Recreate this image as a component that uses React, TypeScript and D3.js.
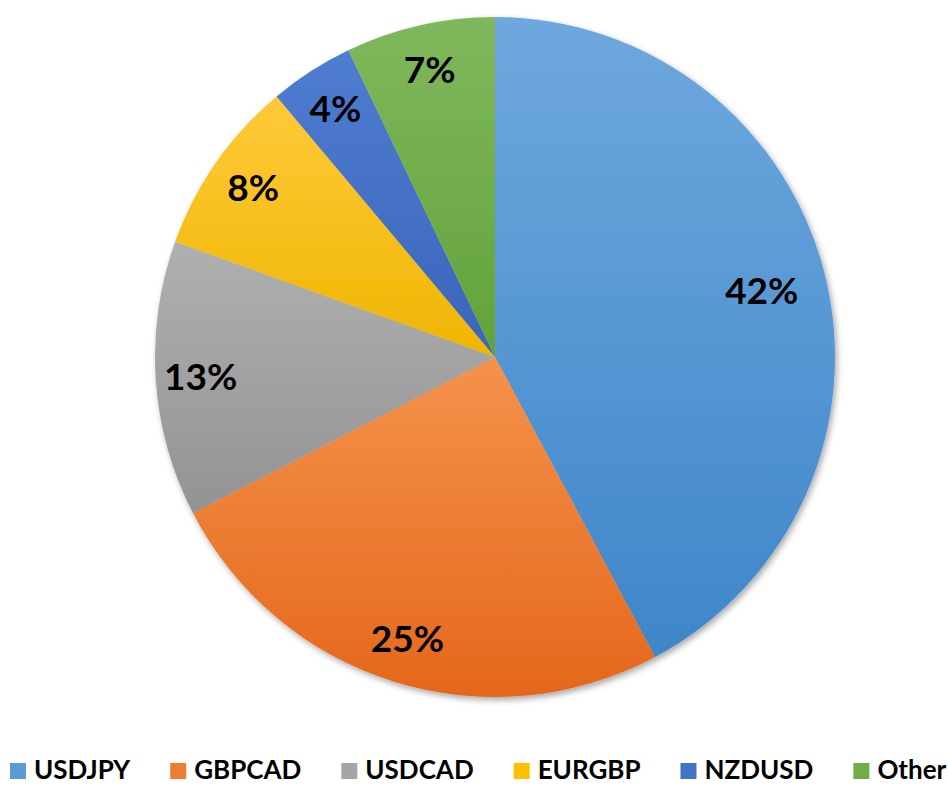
import React, { useEffect, useRef } from "react";
import * as d3 from "d3";

const categories = ["USDJPY", "GBPCAD", "USDCAD", "EURGBP", "NZDUSD", "Other"];
const values = [42.2, 25.2, 13.1, 8.4, 4.0, 7.1];
const colorsTop = ["#6ea8de", "#f5924c", "#b0b0b0", "#ffc93a", "#4f7dd0", "#7fb85c"];
const colorsBottom = ["#3f86c9", "#e4671b", "#939393", "#eeb600", "#3a64bb", "#63a23a"];
const legendColors = ["#5b9bd5", "#ed7d31", "#a5a5a5", "#ffc000", "#4472c4", "#70ad47"];

const W = 948;
const H = 786;

export default function App() {
  const ref = useRef<SVGSVGElement>(null);

  useEffect(() => {
    const svg = d3.select(ref.current);
    svg.selectAll("*").remove();
    const cx = 495, cy = 357, r = 340;
    const font = "Lato, 'Open Sans', sans-serif";

    const defs = svg.append("defs");
    categories.forEach((c, i) => {
      const g = defs.append("linearGradient").attr("id", "g" + i)
        .attr("x1", 0).attr("y1", 0).attr("x2", 0).attr("y2", 1);
      g.append("stop").attr("offset", "0%").attr("stop-color", colorsTop[i]);
      g.append("stop").attr("offset", "100%").attr("stop-color", colorsBottom[i]);
    });
    const f = defs.append("filter").attr("id", "sh").attr("x", "-10%").attr("y", "-10%").attr("width", "120%").attr("height", "120%");
    f.append("feDropShadow").attr("dx", 2).attr("dy", 3).attr("stdDeviation", 3)
      .attr("flood-color", "#000").attr("flood-opacity", 0.35);

    const data = categories.map((c, i) => ({ c, v: values[i], i }));
    const pie = d3.pie<any>().value((d) => d.v).sort(null);
    const arcs = pie(data);
    const arc = d3.arc<any>().innerRadius(0).outerRadius(r);
    const labelArc = d3.arc<any>().innerRadius(295).outerRadius(295);
    const bigLabelArc = d3.arc<any>().innerRadius(275).outerRadius(275);

    const g = svg.append("g").attr("transform", `translate(${cx},${cy})`);
    const pg = g.append("g").attr("filter", "url(#sh)");
    pg.selectAll("path").data(arcs).enter().append("path")
      .attr("d", arc as any)
      .attr("fill", (d: any) => `url(#g${d.data.i})`);

    g.selectAll("text.lbl").data(arcs).enter().append("text")
      .attr("class", "lbl")
      .attr("transform", (d: any) => {
        const a = d.endAngle - d.startAngle > Math.PI * 0.6 ? bigLabelArc : labelArc;
        return `translate(${a.centroid(d)})`;
      })
      .attr("text-anchor", "middle")
      .attr("dy", "0.36em")
      .attr("font-family", font)
      .attr("font-weight", "bold")
      .attr("font-size", 37)
      .attr("fill", "#000")
      .text((d: any) => `${Math.round(d.data.v)}%`);

    const lg = svg.append("g");
    let x = 10;
    const baseY = 779;
    categories.forEach((c, i) => {
      lg.append("rect").attr("x", x).attr("y", 763).attr("width", 16).attr("height", 16)
        .attr("fill", legendColors[i]);
      const t = lg.append("text").attr("x", x + 24).attr("y", baseY)
        .attr("font-family", font).attr("font-weight", "bold").attr("font-size", 26)
        .attr("fill", "#000").text(c);
      const w = (t.node() as SVGTextElement).getComputedTextLength();
      x = x + 24 + w + 40;
    });
  }, []);

  return <svg ref={ref} width={W} height={H} style={{ display: "block", position: "absolute", left: 0, top: 0 }} />;
}
